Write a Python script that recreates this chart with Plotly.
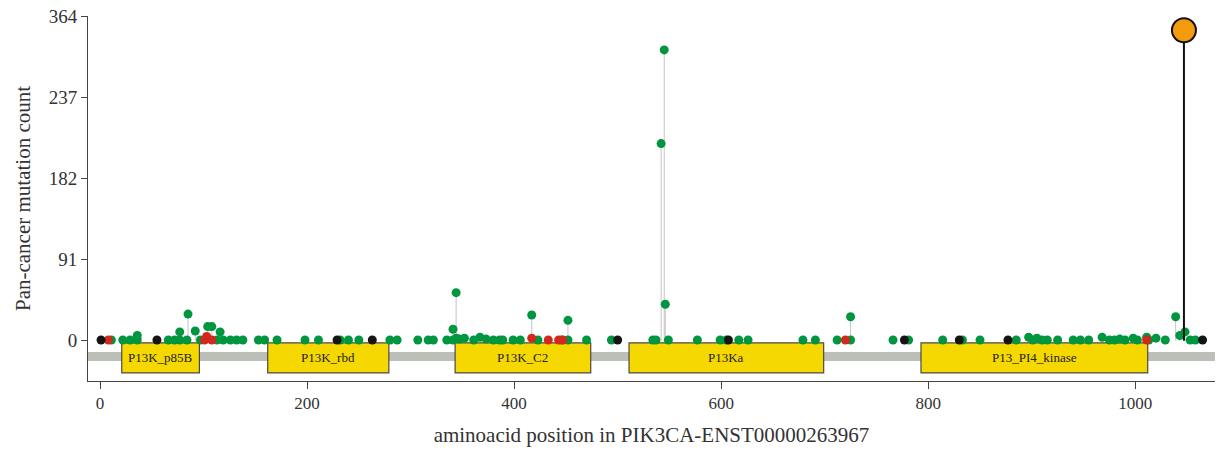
import plotly.graph_objects as go

# ---- data ----
mut_pos = [1, 8, 11, 22, 29, 36, 36, 55, 66, 72, 77, 77, 84, 85, 92, 97, 101, 103, 104, 108, 108, 113,
           116, 119, 126, 132, 138, 153, 159, 171,
           198, 211, 229, 232, 240, 250, 263, 280, 287, 307, 317, 322, 335, 341, 341, 344, 344, 347,
           352, 361, 367, 373, 380, 386,
           389, 399, 406, 417, 417, 423, 433, 443, 446, 447, 452, 452, 470, 494, 500,
           534, 537, 542, 545, 546, 549, 577,
           599, 605, 607, 617, 626, 679, 691, 712, 720, 725, 725, 766, 777, 781,
           814, 830, 833, 850, 877, 885, 897, 901, 905, 910, 915, 925, 940, 947, 955, 968, 975, 980,
           985, 990, 998, 1002, 1011, 1011, 1013, 1020, 1029, 1039, 1043, 1048, 1053, 1058, 1065]
mut_count = [1, 1, 1, 1, 1, 1, 6, 1, 1, 1, 1, 10, 1, 30, 11, 1, 1, 5, 16, 1, 16, 1,
             10, 1, 1, 1, 1, 1, 1, 1,
             1, 1, 1, 1, 1, 1, 1, 1, 1, 1, 1, 1, 1, 1, 13, 54, 3, 2,
             3, 1, 4, 2, 1, 1,
             1, 1, 1, 3, 29, 1, 1, 1, 1, 1, 23, 1, 1, 1, 1,
             1, 1, 221, 326, 41, 1, 1,
             1, 1, 1, 1, 1, 1, 1, 1, 1, 1, 27, 1, 1, 1,
             1, 1, 1, 1, 1, 1, 4, 1, 3, 1, 1, 1, 1, 1, 1, 4, 1, 1,
             2, 1, 3, 1, 4, 1, 1, 3, 1, 27, 6, 10, 1, 1, 1]
mut_type = ["trunc", "inframe", "missense", "missense", "missense", "missense", "missense", "trunc",
            "missense", "missense", "missense", "missense", "missense", "missense", "missense", "missense",
            "inframe", "inframe", "missense", "inframe", "missense", "missense",
            "missense", "missense", "missense", "missense", "missense", "missense", "missense", "missense",
            "missense", "missense", "trunc", "missense", "missense", "missense", "trunc", "missense",
            "missense", "missense", "missense", "missense", "missense", "missense", "missense", "missense",
            "missense", "missense", "missense", "missense", "missense", "missense", "missense", "missense",
            "missense", "missense", "missense", "inframe", "missense", "missense", "inframe", "inframe",
            "missense", "inframe", "missense", "missense", "missense", "missense", "trunc",
            "missense", "missense", "missense", "missense", "missense", "missense", "missense",
            "missense", "missense", "trunc", "missense", "missense", "missense", "missense", "missense",
            "inframe", "missense", "missense", "missense", "trunc", "missense",
            "missense", "trunc", "missense", "missense", "trunc", "missense", "missense", "missense",
            "missense", "missense", "missense", "missense", "missense", "missense", "missense", "missense",
            "missense", "missense", "missense", "missense", "missense", "missense", "missense", "inframe",
            "missense", "missense", "missense", "missense", "missense", "missense", "missense", "missense",
            "trunc"]

hotspot_pos = [1047]
hotspot_count = [348]

domain_names = ["P13K_p85B", "P13K_rbd", "P13K_C2", "P13Ka", "P13_PI4_kinase"]
domain_start = [21, 162, 343, 511, 793]
domain_end = [96, 279, 474, 699, 1012]

y_tickvals = [0, 91, 182, 273, 364]
y_ticktext = ["0", "91", "182", "237", "364"]
x_tickvals = [0, 200, 400, 600, 800, 1000]

type_color = {"missense": "#00963F", "trunc": "#141414", "inframe": "#D2281E"}

# ---- figure ----
fig = go.Figure()

# stems
sx, sy = [], []
for p, c in zip(mut_pos, mut_count):
    sx += [p, p, None]
    sy += [0, c, None]
fig.add_trace(go.Scatter(x=sx, y=sy, mode="lines", line=dict(color="#c4c4c4", width=1),
                         hoverinfo="skip", showlegend=False))

font_family = "Liberation Serif, DejaVu Serif, serif"

# backbone and domains as shapes
fig.add_shape(type="rect", xref="paper", x0=0, x1=1, yref="y", y0=-12.5, y1=-22.5,
              fillcolor="#BBBFB7", line_width=0, layer="below")
for name, s, e in zip(domain_names, domain_start, domain_end):
    fig.add_shape(type="rect", x0=s, x1=e, y0=-2.2, y1=-36, fillcolor="#F5D800",
                  line=dict(color="#4a4a4a", width=1.2), layer="below")
    fig.add_annotation(x=(s + e) / 2, y=-19, text=name, showarrow=False,
                       font=dict(family=font_family, size=13, color="#222"))

# mutation dots in draw order: green, red, black
for t in ["missense", "inframe", "trunc"]:
    xs = [p for p, ty in zip(mut_pos, mut_type) if ty == t]
    ys = [c for c, ty in zip(mut_count, mut_type) if ty == t]
    fig.add_trace(go.Scatter(x=xs, y=ys, mode="markers",
                             marker=dict(color=type_color[t], size=9, line_width=0),
                             showlegend=False, cliponaxis=False))

# hotspot
fig.add_trace(go.Scatter(x=[hotspot_pos[0], hotspot_pos[0]], y=[0, hotspot_count[0]], mode="lines",
                         line=dict(color="#111", width=2), showlegend=False, hoverinfo="skip"))
fig.add_trace(go.Scatter(x=hotspot_pos, y=hotspot_count, mode="markers",
                         marker=dict(color="#F39B0D", size=24, line=dict(color="#111", width=2)),
                         showlegend=False, cliponaxis=False))

fig.update_layout(
    width=1221, height=458,
    margin=dict(l=88, r=6, t=16, b=77),
    paper_bgcolor="white", plot_bgcolor="white",
    font=dict(family=font_family, color="#333"),
    xaxis=dict(range=[-11.6, 1077], tickvals=x_tickvals, ticks="outside", ticklen=7,
               tickcolor="#444", showline=True, linecolor="#444", linewidth=1,
               showgrid=False, zeroline=False, tickfont=dict(size=17, family=font_family, color="#333"),
               title=dict(text="aminoacid position in PIK3CA-ENST00000263967",
                          font=dict(size=21, family=font_family, color="#333"), standoff=14)),
    yaxis=dict(range=[-45, 364], tickvals=y_tickvals, ticktext=y_ticktext, ticks="outside",
               ticklen=6, tickcolor="#444", showline=True, linecolor="#444", linewidth=1,
               showgrid=False, zeroline=False, tickfont=dict(size=19, family=font_family, color="#333"),
               title=dict(text="Pan-cancer mutation count",
                          font=dict(size=21, family=font_family, color="#333"), standoff=12)),
)

fig.write_html("out.html")
